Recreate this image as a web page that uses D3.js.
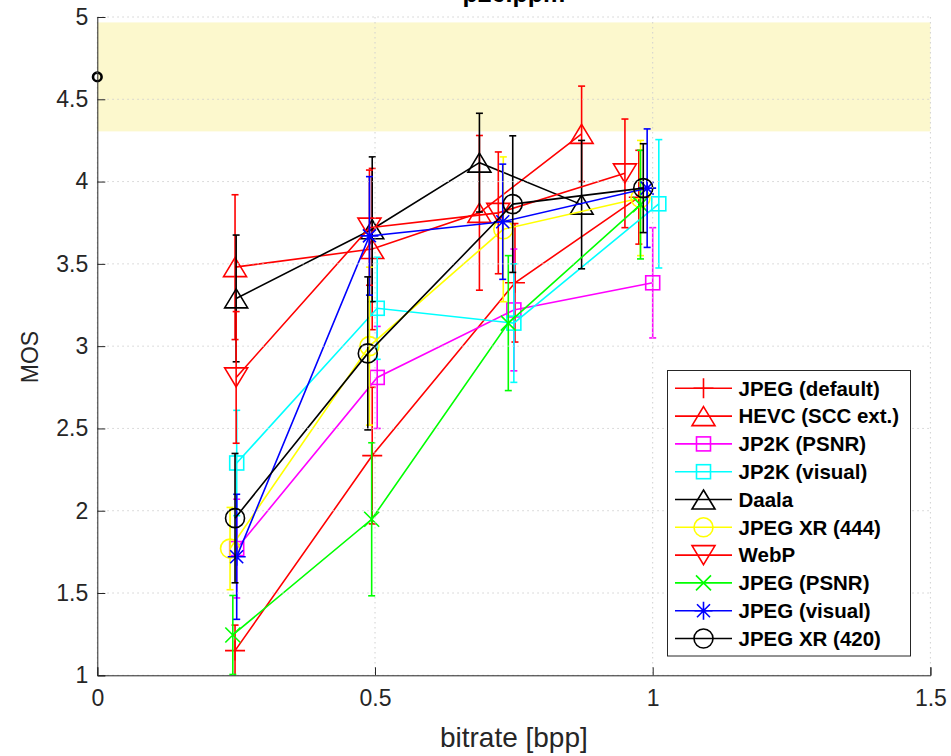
<!DOCTYPE html>
<html><head><meta charset="utf-8">
<script src="https://cdn.jsdelivr.net/npm/d3@7"></script>
<style>body{margin:0;background:#fff}svg{display:block}</style>
</head><body>
<script>
// ---------- data ----------
const chartTitle = "p26.ppm";
const xLabel = "bitrate [bpp]";
const yLabel = "MOS";
const xTicks = [0, 0.5, 1, 1.5];
const yTicks = [1, 1.5, 2, 2.5, 3, 3.5, 4, 4.5, 5];

const seriesNames = ["JPEG (default)", "HEVC (SCC ext.)", "JP2K (PSNR)", "JP2K (visual)", "Daala",
  "JPEG XR (444)", "WebP", "JPEG (PSNR)", "JPEG (visual)", "JPEG XR (420)"];
const seriesColors = ["#ff0000", "#ff0000", "#ff00ff", "#00ffff", "#000000",
  "#ffff00", "#ff0000", "#00ff00", "#0000ff", "#000000"];
const seriesMarkers = ["+", "^", "s", "s", "^", "o", "v", "x", "*", "o"];

const bitrateJpegDefault = [0.248, 0.495, 0.752, 0.975];
const mosJpegDefault     = [1.15, 2.335, 3.385, 3.905];
const ciJpegDefault      = [0.155, 0.415, 0.36, 0.285];

const bitrateHevc = [0.248, 0.495, 0.688, 0.872];
const mosHevc     = [3.48, 3.59, 3.81, 4.29];
const ciHevc      = [0.44, 0.49, 0.47, 0.29];

const bitrateJp2kPsnr = [0.251, 0.504, 0.750, 1.000];
const mosJp2kPsnr     = [1.77, 2.81, 3.22, 3.385];
const ciJp2kPsnr      = [0.30, 0.31, 0.37, 0.335];

const bitrateJp2kVisual = [0.251, 0.504, 0.750, 1.011];
const mosJp2kVisual     = [2.29, 3.23, 3.14, 3.865];
const ciJp2kVisual      = [0.32, 0.31, 0.36, 0.39];

const bitrateDaala = [0.250, 0.495, 0.688, 0.872];
const mosDaala     = [3.29, 3.71, 4.115, 3.86];
const ciDaala      = [0.385, 0.44, 0.30, 0.39];

const bitrateXr444 = [0.239, 0.490, 0.731, 0.978];
const mosXr444     = [1.77, 3.00, 3.71, 3.90];
const ciXr444      = [0.25, 0.48, 0.44, 0.35];

const bitrateWebp = [0.250, 0.490, 0.722, 0.950];
const mosWebp     = [2.81, 3.72, 3.81, 4.05];
const ciWebp      = [0.40, 0.35, 0.37, 0.33];

const bitrateJpegPsnr = [0.244, 0.494, 0.740, 0.978];
const mosJpegPsnr     = [1.245, 1.948, 3.14, 3.86];
const ciJpegPsnr      = [0.24, 0.465, 0.41, 0.33];

const bitrateJpegVisual = [0.251, 0.490, 0.730, 0.990];
const mosJpegVisual     = [1.72, 3.67, 3.756, 3.96];
const ciJpegVisual      = [0.38, 0.36, 0.35, 0.36];

const bitrateXr420 = [0.248, 0.487, 0.748, 0.983];
const mosXr420     = [1.955, 2.956, 3.863, 3.96];
const ciXr420      = [0.393, 0.465, 0.415, 0.27];

const referenceBitrate = 0;
const referenceMOS = 4.636;
const referenceCI = 0.331;

const allBitrates = [bitrateJpegDefault, bitrateHevc, bitrateJp2kPsnr, bitrateJp2kVisual, bitrateDaala,
  bitrateXr444, bitrateWebp, bitrateJpegPsnr, bitrateJpegVisual, bitrateXr420];
const allMos = [mosJpegDefault, mosHevc, mosJp2kPsnr, mosJp2kVisual, mosDaala,
  mosXr444, mosWebp, mosJpegPsnr, mosJpegVisual, mosXr420];
const allCi = [ciJpegDefault, ciHevc, ciJp2kPsnr, ciJp2kVisual, ciDaala,
  ciXr444, ciWebp, ciJpegPsnr, ciJpegVisual, ciXr420];

(function () {
// ---------- layout ----------
const W = 951, H = 756;
const pLeft = 97.3, pRight = 930.4, pTop = 17, pBottom = 675.3;
const axisColor = "#262626";
const font = "'Liberation Sans', Arial, Helvetica, sans-serif";

const svg = d3.select("body").append("svg").attr("width", W).attr("height", H);
const x = d3.scaleLinear().domain([0, 1.5]).range([pLeft, pRight]);
const y = d3.scaleLinear().domain([1, 5]).range([pBottom, pTop]);

// reference band
svg.append("rect")
  .attr("x", x(0)).attr("width", x(1.5) - x(0))
  .attr("y", y(referenceMOS + referenceCI))
  .attr("height", y(referenceMOS - referenceCI) - y(referenceMOS + referenceCI))
  .attr("fill", "#fcf8cd");

function drawMarker(g, type, cx, cy, color) {
  const p = g.append("g").attr("fill", "none").attr("stroke", color).attr("stroke-width", 1.6);
  if (type === "+") {
    p.append("path").attr("d", `M${cx-10},${cy}H${cx+10}M${cx},${cy-10}V${cy+10}`);
  } else if (type === "^") {
    p.append("path").attr("d", `M${cx},${cy-9.5}L${cx+11.5},${cy+9.5}L${cx-11.5},${cy+9.5}Z`);
  } else if (type === "v") {
    p.append("path").attr("d", `M${cx},${cy+9.5}L${cx+11.5},${cy-9.5}L${cx-11.5},${cy-9.5}Z`);
  } else if (type === "s") {
    p.append("rect").attr("x", cx-7).attr("y", cy-7).attr("width", 14).attr("height", 14);
  } else if (type === "o") {
    p.append("circle").attr("cx", cx).attr("cy", cy).attr("r", 9.5);
  } else if (type === "x") {
    p.append("path").attr("d", `M${cx-7.5},${cy-7.5}L${cx+7.5},${cy+7.5}M${cx-7.5},${cy+7.5}L${cx+7.5},${cy-7.5}`);
  } else if (type === "*") {
    p.append("path").attr("d", `M${cx-9},${cy}H${cx+9}M${cx},${cy-9}V${cy+9}M${cx-6.5},${cy-6.5}L${cx+6.5},${cy+6.5}M${cx-6.5},${cy+6.5}L${cx+6.5},${cy-6.5}`);
  }
}

const dataG = svg.append("g");
const line = d3.line().x(d => x(d[0])).y(d => y(d[1]));
seriesNames.forEach((name, i) => {
  const pts = allBitrates[i].map((b, j) => [b, allMos[i][j], allCi[i][j]]);
  const g = dataG.append("g");
  g.append("path").attr("d", line(pts)).attr("fill", "none")
    .attr("stroke", seriesColors[i]).attr("stroke-width", 1.6);
  pts.forEach(p => {
    const cx = x(p[0]);
    const y0 = Math.min(y(p[1] - p[2]), pBottom), y1 = y(p[1] + p[2]);
    g.append("line").attr("x1", cx).attr("x2", cx).attr("y1", y0).attr("y2", y1)
      .attr("stroke", seriesColors[i]).attr("stroke-width", 1.6);
    [p[1] - p[2], p[1] + p[2]].forEach(v => {
      if (v >= 1) g.append("line").attr("x1", cx - 3.5).attr("x2", cx + 3.5)
        .attr("y1", y(v)).attr("y2", y(v)).attr("stroke", seriesColors[i]).attr("stroke-width", 1.6);
    });
    drawMarker(g, seriesMarkers[i], cx, y(p[1]), seriesColors[i]);
  });
});

// reference point
svg.append("circle").attr("cx", x(referenceBitrate)).attr("cy", y(referenceMOS)).attr("r", 4.3)
  .attr("fill", "none").attr("stroke", "#000").attr("stroke-width", 2.6);

// grid on top
const gridG = svg.append("g").attr("stroke", "#d0d0d0").attr("stroke-width", 1).attr("stroke-dasharray", "1.5,3.5");
xTicks.forEach(t => gridG.append("line").attr("x1", x(t)).attr("x2", x(t)).attr("y1", pTop).attr("y2", pBottom));
yTicks.forEach(t => gridG.append("line").attr("x1", pLeft).attr("x2", pRight).attr("y1", y(t)).attr("y2", y(t)));

// axes
const xAxis = d3.axisBottom(x).tickValues(xTicks).tickSize(-8).tickPadding(14).tickFormat(d3.format("~g"));
const yAxis = d3.axisLeft(y).tickValues(yTicks).tickSize(-8).tickPadding(9).tickFormat(d3.format("~g"));
const gx = svg.append("g").attr("transform", `translate(0,${pBottom})`).call(xAxis);
const gy = svg.append("g").attr("transform", `translate(${pLeft},0)`).call(yAxis);
[gx, gy].forEach(g => {
  g.select(".domain").attr("stroke", axisColor).attr("stroke-width", 1);
  g.selectAll(".tick line").attr("stroke", axisColor);
  g.selectAll(".tick text").attr("fill", axisColor).style("font-family", font).style("font-size", "23px");
});

// labels
svg.append("text").attr("x", (pLeft + pRight) / 2).attr("y", 747).attr("text-anchor", "middle")
  .style("font-family", font).style("font-size", "28px").attr("fill", axisColor).text(xLabel);
svg.append("text").attr("transform", `translate(38,357) rotate(-90)`).attr("text-anchor", "middle")
  .style("font-family", font).style("font-size", "23px").attr("fill", axisColor).text(yLabel);
svg.append("text").attr("x", (pLeft + pRight) / 2).attr("y", 2).attr("text-anchor", "middle")
  .style("font-family", font).style("font-size", "25px").style("font-weight", "bold").attr("fill", "#000").text(chartTitle);

// legend
const lg = svg.append("g");
lg.append("rect").attr("x", 667.5).attr("y", 370.5).attr("width", 243).attr("height", 285.5)
  .attr("fill", "#fff").attr("stroke", axisColor).attr("stroke-width", 1);
seriesNames.forEach((name, i) => {
  const cy = 388.3 + i * 27.8;
  lg.append("line").attr("x1", 675).attr("x2", 732).attr("y1", cy).attr("y2", cy)
    .attr("stroke", seriesColors[i]).attr("stroke-width", 1.6);
  drawMarker(lg, seriesMarkers[i], 703.5, cy, seriesColors[i]);
  lg.append("text").attr("x", 738.5).attr("y", cy + 7.3).style("font-family", font)
    .style("font-size", "20.5px").style("font-weight", "bold").attr("fill", "#000").text(name);
});
})();
</script>
</body></html>
